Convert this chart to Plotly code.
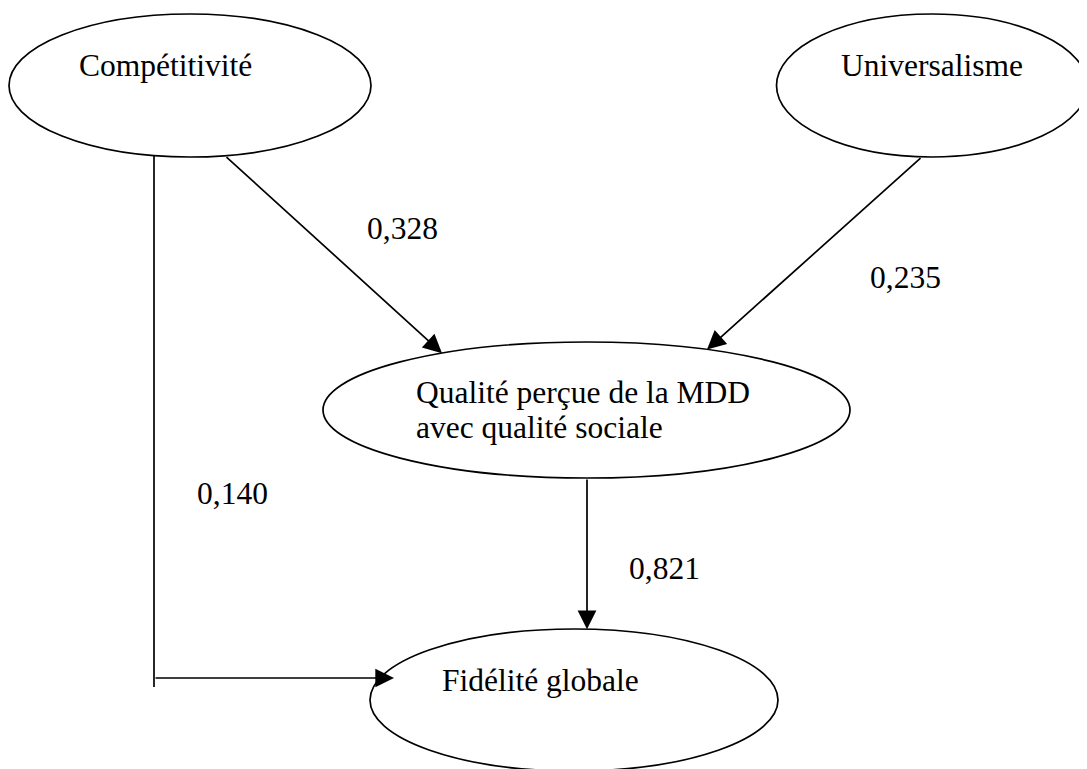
import plotly.graph_objects as go
import math

# ---- data: constructs and path coefficients ----
node_names = ["Compétitivité", "Universalisme", "Qualité", "Fidélité"]
node_labels = [["Compétitivité"], ["Universalisme"],
               ["Qualité perçue de la MDD", "avec qualité sociale"],
               ["Fidélité globale"]]
edge_from = ["Compétitivité", "Universalisme", "Qualité", "Compétitivité"]
edge_to = ["Qualité", "Qualité", "Fidélité", "Fidélité"]
edge_coef = [0.328, 0.235, 0.821, 0.140]

# ---- layout geometry (pixels, y downward) ----
W, H = 1087, 769
PAD = 8  # page body margin
ellipses = {
    "Compétitivité": dict(cx=190, cy=85.5, rx=181, ry=71.5, tx=78, ty=[65]),
    "Universalisme": dict(cx=932, cy=85.5, rx=155.5, ry=71.5, tx=840, ty=[65]),
    "Qualité": dict(cx=586.5, cy=410, rx=263.5, ry=68, tx=415, ty=[392, 427]),
    "Fidélité": dict(cx=574, cy=700, rx=204, ry=71, tx=441, ty=[680]),
}
# x positions where each edge leaves its source / meets its target
edge_geom = [
    dict(kind="diag", sx=225, tx=442, lx=402, ly=228),
    dict(kind="diag", sx=922, tx=707, lx=905, ly=277),
    dict(kind="diag", sx=587, tx=587, lx=664, ly=568),
    dict(kind="elbow", sx=154, ey=678, tipx=394, bottom=687, lx=232, ly=493),
]

FONT = dict(family="Liberation Serif, Times New Roman, serif", size=31.5, color="black")
LW = 1.7


def ell_y(e, x, side):
    d = (x - e["cx"]) / e["rx"]
    off = e["ry"] * math.sqrt(max(0.0, 1 - d * d))
    return e["cy"] + off if side == "bottom" else e["cy"] - off


fig = go.Figure()
shapes = []
annotations = []

for name, lines in zip(node_names, node_labels):
    e = ellipses[name]
    shapes.append(dict(type="circle", xref="x", yref="y",
                       x0=e["cx"] - e["rx"], x1=e["cx"] + e["rx"],
                       y0=e["cy"] - e["ry"], y1=e["cy"] + e["ry"],
                       line=dict(color="black", width=LW), fillcolor="rgba(0,0,0,0)"))
    for txt, ty in zip(lines, e["ty"]):
        annotations.append(dict(x=e["tx"], y=ty, xref="x", yref="y", text=txt,
                                showarrow=False, xanchor="left", yanchor="middle",
                                font=FONT, borderpad=0))

for f, t, c, g in zip(edge_from, edge_to, edge_coef, edge_geom):
    src, dst = ellipses[f], ellipses[t]
    label = f"{c:.3f}".replace(".", ",")
    arrow = dict(xref="x", yref="y", axref="x", ayref="y", text="", showarrow=True,
                 arrowhead=2, arrowsize=2.2, arrowwidth=LW, arrowcolor="black", standoff=0)
    if g["kind"] == "diag":
        y0 = ell_y(src, g["sx"], "bottom")
        y1 = ell_y(dst, g["tx"], "top")
        annotations.append(dict(x=g["tx"], y=y1, ax=g["sx"], ay=y0, **arrow))
    else:
        y0 = ell_y(src, g["sx"], "bottom")
        shapes.append(dict(type="line", xref="x", yref="y",
                           x0=g["sx"], x1=g["sx"], y0=y0, y1=g["bottom"],
                           line=dict(color="black", width=LW)))
        annotations.append(dict(x=g["tipx"], y=g["ey"], ax=g["sx"], ay=g["ey"], **arrow))
    annotations.append(dict(x=g["lx"], y=g["ly"], xref="x", yref="y", text=label,
                            showarrow=False, xanchor="center", yanchor="middle",
                            font=FONT))

fig.update_layout(
    width=W - PAD, height=H - PAD,
    margin=dict(l=0, r=0, t=0, b=0),
    paper_bgcolor="white", plot_bgcolor="white",
    xaxis=dict(range=[PAD, W], visible=False, fixedrange=True),
    yaxis=dict(range=[H, PAD], visible=False, fixedrange=True),
    shapes=shapes, annotations=annotations, showlegend=False,
)

fig.write_html("out.html")
